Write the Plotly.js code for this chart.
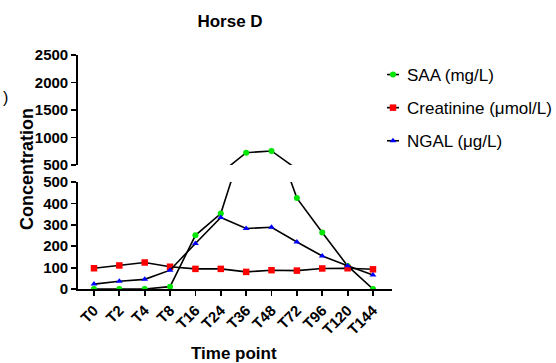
<!DOCTYPE html>
<html><head><meta charset="utf-8">
<script src="https://cdn.plot.ly/plotly-3.0.1.min.js"></script>
<style>html,body{margin:0;padding:0;background:#fff}</style>
</head><body>
<div id="chart" style="width:556px;height:363px"></div>
<script>
const timePoints = ['T0','T2','T4','T8','T16','T24','T36','T48','T72','T96','T120','T144'];
const saa = [0, 0, 0, 11, 251, 353, 724, 755, 425, 264, 108, 0];
const creatinine = [97, 110, 124, 104, 94, 94, 80, 88, 86, 96, 97, 92];
const ngal = [23, 36, 45, 88, 213, 334, 283, 289, 220, 154, 109, 65];
const lowerTicks = [0, 100, 200, 300, 400, 500];
const upperTicks = [500, 1000, 1500, 2000, 2500];

const series = [
  {name: 'SAA (mg/L)', y: saa, color: '#00e600', symbol: 'circle', size: 6},
  {name: 'Creatinine (\u03bcmol/L)', y: creatinine, color: '#ff0000', symbol: 'square', size: 6.5},
  {name: 'NGAL (\u03bcg/L)', y: ngal, color: '#0000ff', symbol: 'triangle-up', size: 6}
];

const traces = [];
series.forEach((s, i) => {
  ['y', 'y2'].forEach(ax => {
    traces.push({
      x: timePoints, y: s.y, name: s.name, yaxis: ax, xaxis: 'x',
      type: 'scatter', mode: 'lines+markers',
      line: {color: '#000', width: 1.6},
      marker: {color: s.color, symbol: s.symbol, size: s.size, line: {width: 0}},
      showlegend: ax === 'y', legendgroup: 'g' + i
    });
  });
});

const FF = 'Liberation Sans, Arial, sans-serif';
const tickFont = {family: FF, size: 15, color: '#000', weight: 'bold'};
const axisCommon = {
  showline: true, linecolor: '#000', linewidth: 1.8,
  ticks: 'outside', ticklen: 5, tickwidth: 1.8, tickcolor: '#000',
  tickfont: tickFont, showgrid: false, zeroline: false
};
const layout = {
  width: 556, height: 363,
  margin: {l: 78, r: 164, t: 55, b: 74},
  paper_bgcolor: '#fff', plot_bgcolor: '#fff',
  title: {text: '<b>Horse D</b>', x: 230/556, xanchor: 'center', y: 1 - 21/363, yanchor: 'middle',
          font: {family: FF, size: 17, color: '#000'}},
  xaxis: Object.assign({}, axisCommon, {
    type: 'category', range: [-0.63, 11.75], anchor: 'y', tickangle: -45
  }),
  yaxis: Object.assign({}, axisCommon, {
    domain: [0, 0.457], range: [0, 500], tickvals: lowerTicks, anchor: 'x'
  }),
  yaxis2: Object.assign({}, axisCommon, {
    domain: [0.53, 1], range: [500, 2500], tickvals: upperTicks, anchor: 'x'
  }),
  showlegend: true,
  legend: {x: 0.85, y: 1 - 2/234, xanchor: 'left', yanchor: 'top', tracegroupgap: 8,
           font: {family: FF, size: 17, color: '#000'}, bgcolor: 'rgba(0,0,0,0)'},
  annotations: [
    {text: '<b>Concentration</b>', xref: 'paper', yref: 'paper', x: (27 - 78) / 314, y: (289 - 169) / 234, textangle: -90,
     showarrow: false, xanchor: 'center', yanchor: 'middle',
     font: {family: FF, size: 18, color: '#000'}},
    {text: '<b>Time point</b>', xref: 'paper', yref: 'paper', x: (234 - 78) / 314, y: (289 - 353) / 234,
     showarrow: false, xanchor: 'center', yanchor: 'middle',
     font: {family: FF, size: 17, color: '#000'}},
    {text: ')', xref: 'paper', yref: 'paper', x: -0.245, y: 0.82, showarrow: false,
     xanchor: 'left', yanchor: 'middle', font: {family: FF, size: 16, color: '#000'}}
  ]
};
Plotly.newPlot('chart', traces, layout, {displayModeBar: false, staticPlot: true}).then(gd => {
  gd.querySelectorAll('.legend .legendlines path').forEach(p => p.setAttribute('d', 'M20,0h12'));
  gd.querySelectorAll('.legend .legendpoints path').forEach(p => p.setAttribute('transform', 'translate(26,0)'));
  const lg = gd.querySelector('.legend');
  if (lg) {
    const t = lg.getAttribute('transform') || '';
    const m = t.match(/translate\(\s*([-\d.]+)[ ,]+([-\d.]+)\s*\)/);
    const yy = m ? parseFloat(m[2]) : 55;
    lg.setAttribute('transform', 'translate(367,' + yy + ')');
    lg.removeAttribute('clip-path');
    lg.querySelectorAll('[clip-path]').forEach(e => e.removeAttribute('clip-path'));
  }
});
</script>
</body></html>
